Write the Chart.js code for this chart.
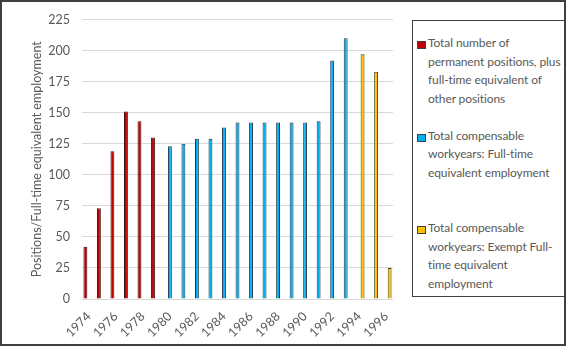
<!DOCTYPE html>
<html>
<head>
<meta charset="utf-8">
<script src="https://cdn.jsdelivr.net/npm/chart.js@4"></script>
<style>
  body { margin: 0; background: #fff; font-family: Lato, "Liberation Sans", sans-serif; }
  #wrap { position: relative; width: 566px; height: 346px; overflow: hidden; }
  #frame { position: absolute; left: 0; top: 0; width: 566px; height: 346px; box-sizing: border-box;
           border: 2px solid #3f3f3f; pointer-events: none; z-index: 3; }
  #plot { position: absolute; left: 0; top: 0; width: 410px; height: 346px; }
  #legend { position: absolute; left: 412px; top: 20px; width: 160px; height: 277px; box-sizing: border-box;
            border: 1.5px solid #404040; }
  .entry { position: absolute; left: 0; }
  .swatch { position: absolute; left: 4px; top: 7px; width: 7px; height: 6px; border: 1px solid #404040; }
  .txt { position: absolute; left: 15px; top: 0; width: 150px; white-space: pre; color: #595959;
         font-size: 12px; letter-spacing: -0.1px; line-height: 18.7px; }
</style>
</head>
<body>
<div id="wrap">
  <div id="plot"><canvas id="chart"></canvas></div>
  <div id="legend"></div>
  <div id="frame"></div>
</div>
<script>
const years = ["1974", "1975", "1976", "1977", "1978", "1979", "1980", "1981", "1982", "1983", "1984", "1985",
  "1986", "1987", "1988", "1989", "1990", "1991", "1992", "1993", "1994", "1995", "1996"];
const permanentPositions = [42, 73, 119, 151, 143, 130, null, null, null, null, null, null,
  null, null, null, null, null, null, null, null, null, null, null];
const fteEmployment = [null, null, null, null, null, null, 123, 125, 129, 129, 138, 142,
  142, 142, 142, 142, 142, 143, 192, 210, null, null, null];
const exemptEmployment = [null, null, null, null, null, null, null, null, null, null, null, null,
  null, null, null, null, null, null, null, null, 197, 183, 25];
const seriesNames = [
  "Total number of\npermanent positions, plus\nfull-time equivalent of\nother positions",
  "Total compensable\nworkyears: Full-time\nequivalent employment",
  "Total compensable\nworkyears: Exempt Full-\ntime equivalent\nemployment"
];
const seriesColors = ["#C00000", "#00B0F0", "#FFC000"];
const seriesBorders = ["#4a1010", "#1c3a50", "#4f4210"];
const yTicks = [0, 25, 50, 75, 100, 125, 150, 175, 200, 225];

const gray = "#595959";
const font = "Lato, 'Liberation Sans', sans-serif";

const seriesValues = [permanentPositions, fteEmployment, exemptEmployment];

const chart = new Chart(document.getElementById("chart"), {
  type: "bar",
  data: {
    labels: years,
    datasets: seriesValues.map((vals, i) => ({
      label: seriesNames[i].replace(/\n/g, " "),
      data: vals,
      backgroundColor: seriesColors[i],
      borderColor: seriesBorders[i],
      borderWidth: 1,
      barPercentage: 1.15,
      categoryPercentage: 0.75
    }))
  },
  options: {
    responsive: true,
    maintainAspectRatio: false,
    animation: false,
    layout: { padding: { top: 16, right: 17, left: 0, bottom: 0 } },
    plugins: { legend: { display: false }, tooltip: { enabled: false } },
    scales: {
      x: {
        grid: { display: false },
        border: { display: false },
        ticks: {
          autoSkip: false,
          minRotation: 45,
          maxRotation: 45,
          color: gray,
          font: { family: font, size: 12.5 },
          padding: 2,
          callback: (v, i) => (i % 2 === 0 ? years[i] : "")
        },
        afterFit: (s) => { s.height = 47; }
      },
      y: {
        min: 0,
        max: 225,
        afterBuildTicks: (s) => { s.ticks = yTicks.map((v) => ({ value: v })); },
        grid: { color: "#d9d9d9", lineWidth: 1, drawTicks: false },
        border: { display: false },
        ticks: { color: gray, font: { family: font, size: 12.5 }, padding: 12 },
        title: {
          display: true,
          text: "Positions/Full-time equivalent employment",
          color: gray,
          font: { family: font, size: 12.5 },
          padding: { top: 29, bottom: 0 }
        },
        afterFit: (s) => { s.width = 82; }
      }
    }
  }
});

const legend = document.getElementById("legend");
seriesNames.forEach((name, i) => {
  const entry = document.createElement("div");
  entry.className = "entry";
  entry.style.top = (13 + i * 92.5) + "px";
  const sw = document.createElement("div");
  sw.className = "swatch";
  sw.style.background = seriesColors[i];
  const txt = document.createElement("div");
  txt.className = "txt";
  txt.textContent = name;
  entry.appendChild(sw);
  entry.appendChild(txt);
  legend.appendChild(entry);
});
</script>
</body>
</html>
